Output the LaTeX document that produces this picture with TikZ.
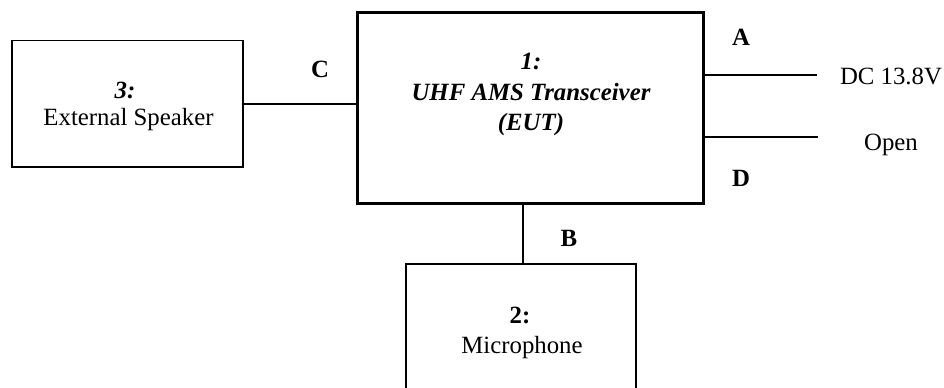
\documentclass[tikz,border=0pt]{standalone}
\usepackage{fontspec}
\setmainfont{Liberation Serif}
\begin{document}
\begin{tikzpicture}[x=0.5pt,y=-0.5pt,
  box/.style={draw, rectangle, inner sep=0pt, outer sep=0pt, line width=0.75pt},
  mainbox/.style={box, line width=1.5pt},
  wire/.style={line width=1pt},
  thinwire/.style={line width=0.75pt},
  txt/.style={inner sep=0pt, text height=8.2pt, text depth=0pt, anchor=center, font=\fontsize{12.4}{14}\selectfont},
  bl/.style={txt, font=\fontsize{12.4}{14}\selectfont\bfseries},
  bi/.style={txt, font=\fontsize{12.4}{14}\selectfont\bfseries\itshape}]
\useasboundingbox (0,0) rectangle (944,387);
\clip (0,0) rectangle (944,387);
% boxes
\node[mainbox, minimum width=173pt, minimum height=95.5pt] (eut) at (530,107.5) {};
\node[box, minimum width=115.5pt, minimum height=63.25pt] (spk) at (127.5,103.75) {};
\node[box, minimum width=115pt, minimum height=80pt] (mic) at (521,344) {};
% text in boxes
\node[bi] (t1a) at (531,61.5) {1:};
\node[bi] (t1b) at (531,92.5) {UHF AMS Transceiver};
\node[bi] (t1c) at (531,122.5) {(EUT)};
\node[bi] (t3a) at (125,90.5) {3:};
\node[txt] (t3b) at (128.5,117) {External Speaker};
\node[bl] (t2a) at (520,315) {2:};
\node[txt] (t2b) at (522,345) {Microphone};
% connectors
\coordinate (pA) at (817,75);
\coordinate (pD) at (818,137);
\draw[wire] (spk.east |- 0,104) -- (eut.west |- 0,104);
\draw[wire] (eut.east |- 0,75) -- (pA);
\draw[wire] (eut.east |- 0,137) -- (pD);
\draw[thinwire] (eut.south -| 523,0) -- (mic.north -| 523,0);
% labels
\node[bl] (lA) at (741,37) {A};
\node[bl] (lD) at (741,178.5) {D};
\node[bl] (lC) at (320,69.5) {C};
\node[bl] (lB) at (569,238.5) {B};
\node[txt] (dc) at (891,76) {DC 13.8V};
\node[txt] (op) at (891,142) {Open};
\end{tikzpicture}
\end{document}
